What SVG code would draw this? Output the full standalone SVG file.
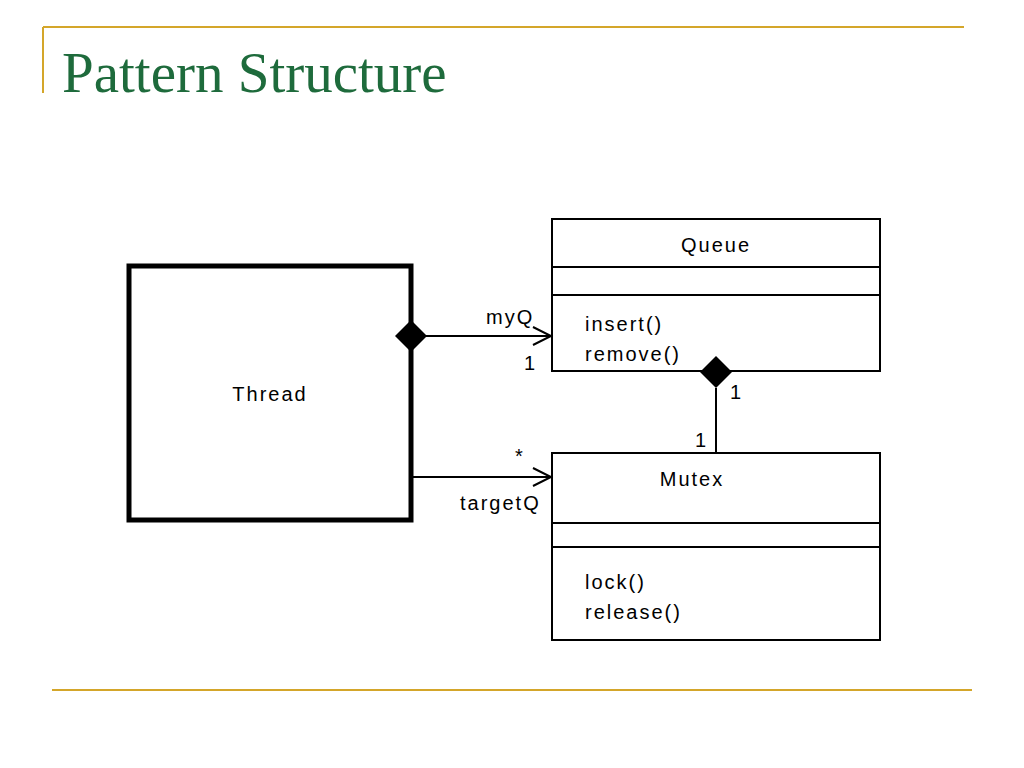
<svg xmlns="http://www.w3.org/2000/svg" width="1024" height="768" viewBox="0 0 1024 768">
<style>
.t{font-family:"Liberation Sans",Arial,sans-serif;font-size:20px;letter-spacing:2px;fill:#000}
.b{fill:#fff;stroke:#000;stroke-width:2}
.l{stroke:#000;stroke-width:2;fill:none}
</style>
<rect width="1024" height="768" fill="#fff"/>
<line x1="43" y1="27" x2="964" y2="27" stroke="#d4a62a" stroke-width="2"/>
<line x1="43" y1="27" x2="43" y2="93" stroke="#d4a62a" stroke-width="2"/>
<line x1="52" y1="690" x2="972" y2="690" stroke="#d4a62a" stroke-width="2"/>
<text x="62" y="92" font-family="Liberation Serif,serif" font-size="57" fill="#1e6b3c">Pattern Structure</text>
<g id="thread"><rect x="129" y="266" width="282" height="254" fill="#fff" stroke="#000" stroke-width="5"/><text class="t" x="270" y="401" text-anchor="middle">Thread</text></g>
<g id="queue"><rect class="b" x="552" y="219" width="328" height="152"/><line class="l" x1="552" y1="267" x2="880" y2="267"/><line class="l" x1="552" y1="295" x2="880" y2="295"/>
<text class="t" x="716" y="252" text-anchor="middle">Queue</text><text class="t" x="585" y="331">insert()</text><text class="t" x="585" y="361">remove()</text></g>
<g id="mutex"><rect class="b" x="552" y="453" width="328" height="187"/><line class="l" x1="552" y1="523" x2="880" y2="523"/><line class="l" x1="552" y1="547" x2="880" y2="547"/>
<text class="t" x="692" y="486" text-anchor="middle">Mutex</text><text class="t" x="585" y="589">lock()</text><text class="t" x="585" y="619">release()</text></g>
<g id="connectors">
<line class="l" x1="411" y1="336" x2="551" y2="336"/><polyline class="l" points="533,327 551,336 533,345"/>
<polygon points="411,320 427,336 411,352 395,336" fill="#000"/>
<line class="l" x1="411" y1="477" x2="551" y2="477"/><polyline class="l" points="533,468 551,477 533,486"/>
<line class="l" x1="716" y1="388" x2="716" y2="453"/>
<polygon points="716,356 732,372 716,388 700,372" fill="#000"/>
<text class="t" x="486" y="324">myQ</text><text class="t" x="524" y="370">1</text>
<text class="t" x="515" y="463">*</text><text class="t" x="460" y="510">targetQ</text>
<text class="t" x="730" y="399">1</text><text class="t" x="695" y="447">1</text>
</g>
</svg>
